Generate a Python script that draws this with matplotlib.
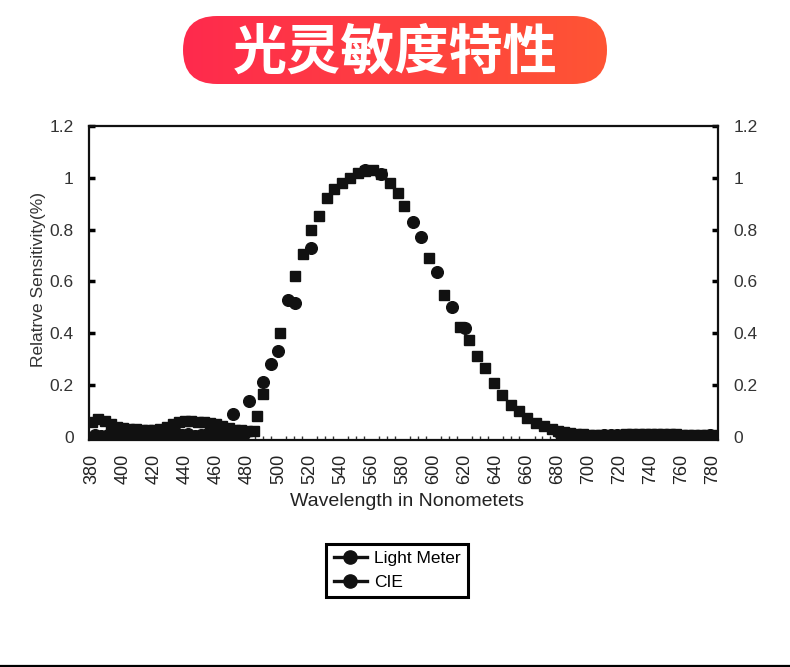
import matplotlib
matplotlib.use("Agg")
import matplotlib.pyplot as plt
import numpy as np
from matplotlib.lines import Line2D
from matplotlib.patches import FancyBboxPatch
from matplotlib.ticker import MultipleLocator, FixedLocator

plt.rcParams['font.family'] = ['Liberation Sans', 'Noto Sans CJK SC', 'DejaVu Sans']

title = "光灵敏度特性"
x_label = "Wavelength in Nonometets"
y_label = "Relatrve Sensitivity(%)"
series_names = ["Light Meter", "CIE"]

x_ticks = list(range(380, 781, 20))
y_ticks = [0, 0.2, 0.4, 0.6, 0.8, 1.0, 1.2]
y_tick_labels = ["0", "0.2", "0.4", "0.6", "0.8", "1", "1.2"]

# Light Meter readings (square markers)
lm_wl = [380, 384, 388, 392, 396, 400, 404, 408, 412, 416, 420, 424, 428, 432,
         436, 440, 444, 448, 452, 456, 460, 464, 468, 472, 476, 480, 484,
         486, 490, 501, 511, 516, 521, 526, 531, 536, 541, 546, 551, 556, 561,
         566, 572, 577, 581, 597, 607, 617, 623, 628, 633, 639, 644, 650, 655,
         660, 666, 671,
         676, 680, 684, 688, 692, 696, 700, 704, 708, 712, 716, 720, 724, 728,
         732, 736, 740, 744, 748, 752, 756, 760, 764, 768, 772, 776, 780]
lm_val = [0.055, 0.066, 0.060, 0.050, 0.038, 0.032, 0.030, 0.028, 0.027, 0.027,
          0.027, 0.030, 0.036, 0.048, 0.056, 0.058, 0.058, 0.057, 0.055, 0.054,
          0.050, 0.042, 0.034, 0.027, 0.024, 0.022, 0.022,
          0.080, 0.165, 0.400, 0.620, 0.707, 0.800, 0.854, 0.920, 0.958, 0.980,
          1.000, 1.020, 1.027, 1.030, 1.015, 0.980, 0.940, 0.890, 0.690, 0.546,
          0.424, 0.373, 0.310, 0.264, 0.206, 0.160, 0.123, 0.097, 0.072, 0.053,
          0.040,
          0.030, 0.022, 0.016, 0.012, 0.010, 0.008, 0.006, 0.005, 0.005, 0.005,
          0.006, 0.007, 0.008, 0.009, 0.010, 0.010, 0.010, 0.010, 0.009, 0.008,
          0.008, 0.007, 0.006, 0.006, 0.005, 0.005, 0.006]

# CIE reference (round markers)
cie_wl = [382, 386, 390, 394, 398, 402, 406, 410, 414, 418, 422, 426, 430, 434,
          438, 442, 446, 450, 454, 458, 462, 466, 470, 474, 478,
          471, 481, 490, 495, 500, 506, 511, 521, 556, 566, 587, 592, 602, 612, 620,
          682, 686, 690, 694, 698, 702, 706, 710, 714, 718, 722, 726, 730, 734,
          738, 742, 746, 750, 754, 758, 762, 766, 770, 774, 778]
cie_val = [0.006, 0.003, 0.004, 0.008, 0.010, 0.008, 0.008, 0.006, 0.008, 0.010,
           0.008, 0.008, 0.010, 0.012, 0.006, 0.008, 0.003, 0.004, 0.010, 0.004,
           0.008, 0.010, 0.010, 0.010, 0.010,
           0.088, 0.136, 0.210, 0.280, 0.330, 0.527, 0.515, 0.727, 1.030, 1.015,
           0.830, 0.770, 0.636, 0.500, 0.420,
           0.006, 0.005, 0.004, 0.004, 0.003, 0.003, 0.003, 0.004, 0.004, 0.004,
           0.005, 0.005, 0.005, 0.005, 0.004, 0.004, 0.004, 0.004, 0.004, 0.003,
           0.003, 0.003, 0.003, 0.003, 0.004]

W, H = 790, 667
fig = plt.figure(figsize=(W / 100, H / 100), dpi=100)

# title banner with red-orange gradient
bax = fig.add_axes([183 / W, 1 - 84 / H, 424 / W, 68 / H])
bax.set_xlim(0, 424)
bax.set_ylim(0, 68)
bax.axis("off")
grad = np.linspace(0, 1, 256).reshape(1, -1)
cmap = matplotlib.colors.LinearSegmentedColormap.from_list("ban", ["#fe2a4d", "#ff5534"])
img = bax.imshow(grad, extent=[0, 424, 0, 68], aspect="auto", cmap=cmap)
pill = FancyBboxPatch((0, 0), 424, 68, boxstyle="round,pad=0,rounding_size=34",
                      transform=bax.transData, facecolor="none", edgecolor="none")
bax.add_patch(pill)
img.set_clip_path(pill)
bax.text(212, 31, title, ha="center", va="center", color="white", fontsize=39,
         fontweight="bold", family=["Noto Sans CJK SC", "DejaVu Sans"])

# main chart
ax = fig.add_axes([89 / W, 1 - 440 / H, 629 / W, 314 / H])
ax.plot(lm_wl, lm_val, linestyle="none", marker="s", markersize=7.8,
        color="#111111")
ax.plot(cie_wl, cie_val, linestyle="none", marker="o", markersize=8.4,
        color="#111111")

ax.set_xlim(378.0, 783.2)
ax.set_ylim(-0.0135, 1.2)
ax.xaxis.set_major_locator(FixedLocator(x_ticks))
ax.xaxis.set_minor_locator(MultipleLocator(5))
ax.set_xticklabels([str(t) for t in x_ticks], rotation=90)
ax.yaxis.set_major_locator(FixedLocator(y_ticks))
ax.set_yticklabels(y_tick_labels)

ax.tick_params(axis="x", which="major", direction="in", length=0, pad=10,
               labelsize=13, labelcolor="#222222")
ax.tick_params(axis="x", which="minor", direction="in", length=3, width=1.0,
               color="#333333")
ax.tick_params(axis="y", which="major", direction="in", length=4, width=2.5,
               pad=11, labelsize=12.5, labelcolor="#333333",
               left=True, right=True, labelleft=True, labelright=True)
for s in ax.spines.values():
    s.set_linewidth(1.6)
    s.set_color("#111111")

ax.set_xlabel(x_label, fontsize=14, color="#222222")
ax.xaxis.set_label_coords(0.506, -0.168)
ax.set_ylabel(y_label, fontsize=12.5, color="#333333")
ax.yaxis.set_label_coords(-0.068, 0.51)

handles = [Line2D([], [], color="#111111", marker="o", markersize=9.5, linewidth=2.4)
           for _ in series_names]
leg = fig.legend(handles, series_names, loc="upper center",
                 bbox_to_anchor=(397 / W, 1 - 544 / H), fontsize=12.5,
                 frameon=True, fancybox=False, handlelength=1.9,
                 handletextpad=0.4, borderpad=0.42, labelspacing=0.48,
                 borderaxespad=0)
leg.get_frame().set_edgecolor("black")
leg.get_frame().set_linewidth(2.2)
leg.get_frame().set_alpha(1)

fig.add_artist(Line2D([0, 1], [1 - 665.5 / H, 1 - 665.5 / H], transform=fig.transFigure,
                      color="black", linewidth=1.6))

fig.savefig("out.png", dpi=100)
